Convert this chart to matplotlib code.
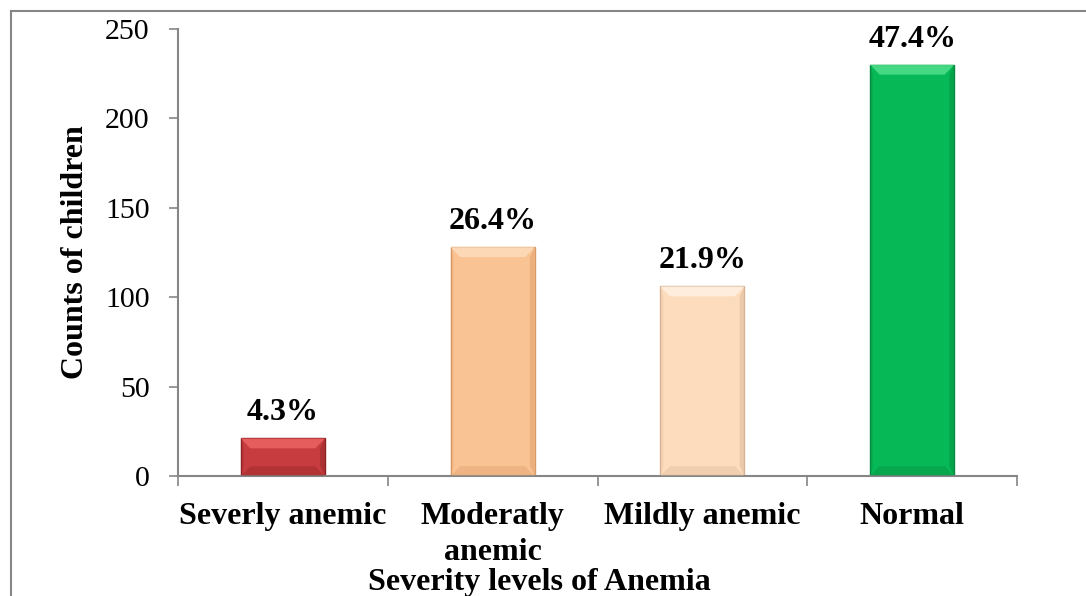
import matplotlib
matplotlib.use("Agg")
import matplotlib.pyplot as plt
from matplotlib.patches import Polygon
from matplotlib.lines import Line2D
import numpy as np

plt.rcParams["font.family"] = ["Liberation Serif", "DejaVu Serif"]

categories = ["Severly anemic", "Moderatly\nanemic", "Mildly anemic", "Normal"]
counts = [21, 128, 106, 230]
percent_labels = ["4.3%", "26.4%", "21.9%", "47.4%"]
colors = ["#c73d3f", "#fac393", "#fddcbd", "#07b856"]
light = ["#ec6363", "#fedcbd", "#fff0e2", "#4fdf8a"]
dark = ["#8e2224", "#d99a66", "#d8b497", "#058a3f"]

fig = plt.figure(figsize=(10.86, 5.96), dpi=100)
ax = fig.add_axes([0.1639, 0.2013, 0.7726, 0.75])

x = np.arange(len(categories))
width = 0.40
bars = ax.bar(x, counts, width=width, color=colors, edgecolor=dark, linewidth=1.0, zorder=2)

# bevel shading on each bar
bx, by = 0.045, 5.5
for i, b in enumerate(bars):
    x0, x1 = b.get_x(), b.get_x() + b.get_width()
    h = b.get_height()
    top = Polygon([[x0, h], [x1, h], [x1 - bx, h - by], [x0 + bx, h - by]],
                  closed=True, facecolor=light[i], alpha=0.85, edgecolor="none", zorder=3)
    bot = Polygon([[x0, 0], [x1, 0], [x1 - bx, by], [x0 + bx, by]],
                  closed=True, facecolor=dark[i], alpha=0.35, edgecolor="none", zorder=3)
    rside = Polygon([[x1, 0], [x1, h], [x1 - bx * 0.5, h - by], [x1 - bx * 0.5, by]],
                    closed=True, facecolor=dark[i], alpha=0.45, edgecolor="none", zorder=3)
    lside = Polygon([[x0, 0], [x0, h], [x0 + bx * 0.3, h - by], [x0 + bx * 0.3, by]],
                    closed=True, facecolor=dark[i], alpha=0.25, edgecolor="none", zorder=3)
    for p in (top, bot, rside, lside):
        ax.add_patch(p)
    ax.annotate(percent_labels[i], (b.get_x() + b.get_width() / 2, h),
                xytext=(0, 13), textcoords="offset points",
                ha="center", va="baseline", fontsize=23, fontweight="bold")

ax.set_xlim(-0.5, 3.5)
ax.set_ylim(0, 250)
ax.set_yticks([0, 50, 100, 150, 200, 250])
ax.tick_params(axis="y", labelsize=21.5, length=6.5, color="#868686", width=1.2, pad=14)

ax.set_xticks(x)
ax.set_xticklabels(categories, fontsize=23, fontweight="bold", linespacing=1.3, va="top")
ax.set_xticks(np.arange(-0.5, 4.0, 1.0), minor=True)
ax.tick_params(axis="x", which="major", length=0, pad=19)
ax.tick_params(axis="x", which="minor", length=7, color="#868686", width=1.2)

for side in ("top", "right"):
    ax.spines[side].set_visible(False)
for side in ("left", "bottom"):
    ax.spines[side].set_color("#868686")
    ax.spines[side].set_linewidth(1.5)

ax.set_ylabel("Counts of children", fontsize=23, fontweight="bold", labelpad=11)
fig.text(0.497, 0.010, "Severity levels of Anemia", fontsize=23, fontweight="bold",
         ha="center", va="baseline")

# outer frame, clipped at the right and bottom edges
fig.add_artist(Line2D([0.010, 1.0], [0.982, 0.982], transform=fig.transFigure,
                      color="#868686", lw=1.5))
fig.add_artist(Line2D([0.010, 0.010], [0.0, 0.982], transform=fig.transFigure,
                      color="#868686", lw=1.5))

fig.savefig("out.png", dpi=100)
plt.close(fig)
